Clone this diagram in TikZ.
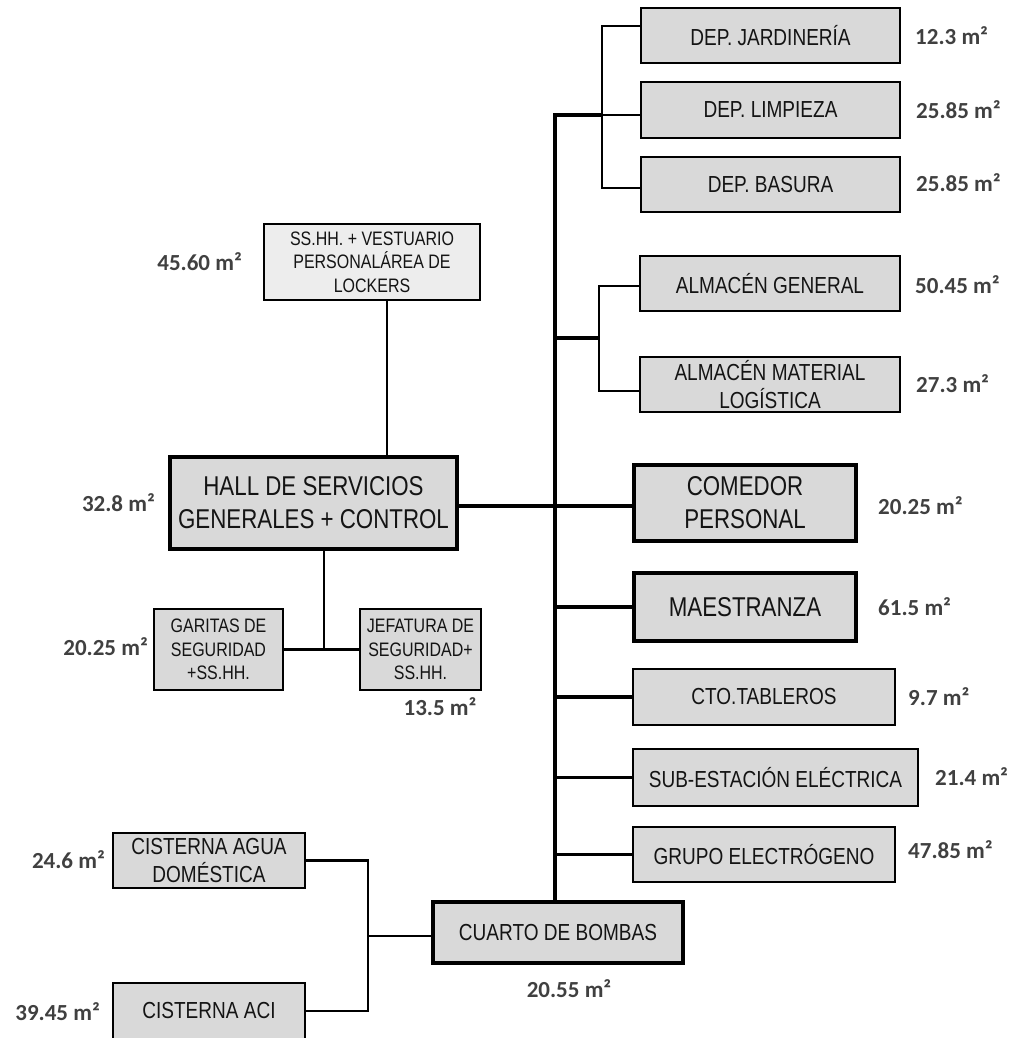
\documentclass[tikz,border=0pt]{standalone}
\usepackage{fontspec}
\newfontfamily\narrowsans[FakeStretch=0.82]{Liberation Sans}
\newfontfamily\areafont{Carlito}
\definecolor{roomgray}{HTML}{D9D9D9}
\definecolor{lightroom}{HTML}{EDEDED}
\definecolor{areagray}{HTML}{404040}
\definecolor{inkblack}{HTML}{141414}
\begin{document}
\begin{tikzpicture}[x=1pt,y=-1pt,
  room/.style={draw=black, line width=2pt, fill=roomgray, inner sep=0pt,
    align=center, text=inkblack, font=\narrowsans\fontsize{23.2}{28.5}\selectfont},
  mainroom/.style={room, line width=4.5pt, font=\narrowsans\fontsize{27.2}{33}\selectfont},
  smallroom/.style={room, font=\narrowsans\fontsize{19.5}{23.3}\selectfont},
  area/.style={inner sep=0pt, text=areagray, font=\areafont\bfseries\fontsize{23}{27}\selectfont},
  link/.style={draw=black, line width=2.2pt},
  spine/.style={draw=black, line width=3.6pt},
  trunk/.style={draw=black, line width=4pt, line join=miter},
]
\useasboundingbox (0,0) rectangle (1014,1038);

% ---- service rooms on the right ----
\node[room, minimum width=259pt, minimum height=55pt] (jard) at (770.5,35.5) {DEP. JARDINERÍA};
\node[room, minimum width=259pt, minimum height=56pt] (limp) at (770.5,110) {DEP. LIMPIEZA};
\node[room, minimum width=259pt, minimum height=55pt] (bas)  at (770.5,184.5) {DEP. BASURA};
\node[room, minimum width=260pt, minimum height=55pt] (almg) at (770,283.5) {ALMACÉN GENERAL};
\node[room, minimum width=260pt, minimum height=55pt] (almm) at (770,384.5) {ALMACÉN MATERIAL\\LOGÍSTICA};
\node[mainroom, minimum width=222pt, minimum height=76pt] (com) at (745,503) {COMEDOR\\PERSONAL};
\node[mainroom, minimum width=222pt, minimum height=68pt] (mae) at (745,607) {MAESTRANZA};
\node[room, minimum width=262pt, minimum height=56pt] (cto) at (764,697) {CTO.TABLEROS};
\node[room, minimum width=285pt, minimum height=57pt] (sub) at (775.5,777.5) {SUB-ESTACIÓN ELÉCTRICA};
\node[room, minimum width=262pt, minimum height=55pt] (gru) at (764,854.5) {GRUPO ELECTRÓGENO};

% ---- pumps and cisterns ----
\node[mainroom, font=\narrowsans\fontsize{23.2}{28.5}\selectfont,
      minimum width=250pt, minimum height=61pt] (cua) at (558,932.5) {CUARTO DE BOMBAS};
\node[room, minimum width=192pt, minimum height=55pt] (cisA) at (209,860.5) {CISTERNA AGUA\\DOMÉSTICA};
\node[room, minimum width=192pt, minimum height=56pt] (cisI) at (209,1011) {CISTERNA ACI};

% ---- hall and its annexes ----
\node[mainroom, minimum width=287pt, minimum height=92pt] (hall) at (313.5,503) {HALL DE SERVICIOS\\GENERALES + CONTROL};
\node[smallroom, fill=lightroom, minimum width=216pt, minimum height=76pt] (ssh) at (372,262)
  {SS.HH. + VESTUARIO\\PERSONALÁREA DE\\LOCKERS};
\node[smallroom, minimum width=129pt, minimum height=81pt] (gar) at (218.5,649.5) {GARITAS DE\\SEGURIDAD\\+SS.HH.};
\node[smallroom, minimum width=121pt, minimum height=81pt] (jef) at (420.5,649.5) {JEFATURA DE\\SEGURIDAD+\\SS.HH.};

% ---- junction points ----
\coordinate (ttop) at (555,115);
\coordinate (jb) at (602,115);
\coordinate (ab) at (599,338);
\coordinate (cb) at (368,936);

% main trunk from the upper stores down to the pump room
\draw[trunk] (jb) -- (ttop) -- (ttop |- cua.north);

% upper group of stores
\draw[link] ([yshift=9.5pt]jard.west) -| (jb) |- ([yshift=-3.5pt]bas.west);
\draw[link] (jb) -- ([yshift=-5pt]limp.west);

% warehouses
\draw[spine] (ab -| ttop) -- (ab);
\draw[link] ([yshift=-2.5pt]almg.west) -| (ab) |- ([yshift=-6.5pt]almm.west);

% direct branches off the trunk
\draw[spine] ([yshift=-3pt]hall.east) -- ([yshift=-3pt]com.west);
\draw[spine] (mae.west) -- (mae.west -| ttop);
\draw[spine] (cto.west) -- (cto.west -| ttop);
\draw[link] (sub.west) -- (sub.west -| ttop);
\draw[link] (gru.west) -- (gru.west -| ttop);

% hall annexes
\draw[link] ([xshift=15pt]ssh.south) -- ([xshift=15pt]ssh.south |- hall.north);
\draw[link] ([xshift=10.5pt]hall.south) -- ([xshift=10.5pt]hall.south |- gar.east);
\draw[link] (gar.east) -- (jef.west);

% cisterns feeding the pump room
\draw[link] ([yshift=-3.5pt]cua.west) -- (cb);
\draw[link] (cisA.east) -| (cb) |- (cisI.east);

% ---- floor areas ----
\node[area, anchor=west] (a1)  at (915,36)   {12.3 m²};
\node[area, anchor=west] (a2)  at (916,110)  {25.85 m²};
\node[area, anchor=west] (a3)  at (916,183)  {25.85 m²};
\node[area, anchor=west] (a4)  at (915,285)  {50.45 m²};
\node[area, anchor=west] (a5)  at (916,384)  {27.3 m²};
\node[area, anchor=west] (a6)  at (878,506)  {20.25 m²};
\node[area, anchor=west] (a7)  at (878,607)  {61.5 m²};
\node[area, anchor=west] (a8)  at (908,697)  {9.7 m²};
\node[area, anchor=west] (a9)  at (935,777)  {21.4 m²};
\node[area, anchor=west] (a10) at (908,850)  {47.85 m²};
\node[area]              (a11) at (569,989)  {20.55 m²};
\node[area, anchor=east] (a12) at (242,262)  {45.60 m²};
\node[area, anchor=east] (a13) at (155,503)  {32.8 m²};
\node[area, anchor=east] (a14) at (148,647)  {20.25 m²};
\node[area]              (a15) at (440,707)  {13.5 m²};
\node[area, anchor=east] (a16) at (105,860)  {24.6 m²};
\node[area, anchor=east] (a17) at (100,1012) {39.45 m²};
\end{tikzpicture}
\end{document}
